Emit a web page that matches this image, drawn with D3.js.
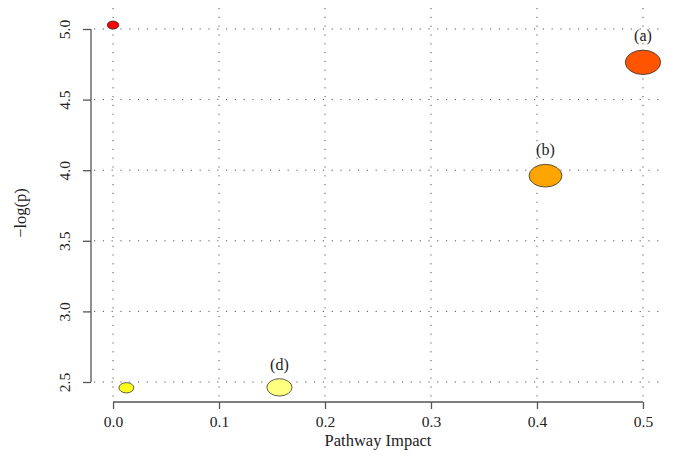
<!DOCTYPE html>
<html>
<head>
<meta charset="utf-8">
<script src="https://cdn.jsdelivr.net/npm/d3@7"></script>
<style>
  body { margin: 0; background: #fff; }
  svg text { font-family: "Liberation Serif", "DejaVu Serif", serif; fill: #222; }
  .grid line { stroke: #555; stroke-width: 1; stroke-dasharray: 1.2,7.6; }
  .axis path, .axis line { stroke: #555; stroke-width: 1.3; }
</style>
</head>
<body>
<svg id="chart" width="674" height="465"></svg>
<script>
// pathway impact (x), -log(p) (y), bubble weight, fill colour and label
var impact = [0.0, 0.5, 0.408, 0.157, 0.0126];
var logp = [5.028, 4.764, 3.961, 2.462, 2.459];
var weight = [0.33, 1.0, 0.93, 0.71, 0.42];
var fills = ["#ff0000", "#ff5500", "#ffa500", "#ffff80", "#ffff1a"];
var labels = ["", "(a)", "(b)", "(d)", ""];
var xTicks = [0.0, 0.1, 0.2, 0.3, 0.4, 0.5];
var yTicks = [2.5, 3.0, 3.5, 4.0, 4.5, 5.0];

var svg = d3.select("#chart");
var pLeft = 91, pRight = 665, pTop = 8, pBottom = 402;

var x = d3.scaleLinear().domain([-0.0208, 0.5208]).range([pLeft, pRight]);
var y = d3.scaleLinear().domain([2.3584, 5.1487]).range([pBottom, pTop]);
var ry = d3.scaleLinear().domain([0, 1]).range([0, 12.2]);

// dotted grid
var grid = svg.append("g").attr("class", "grid");
grid.selectAll(".vx").data(xTicks).enter().append("line")
    .attr("x1", function (d) { return x(d); })
    .attr("x2", function (d) { return x(d); })
    .attr("y1", pTop).attr("y2", pBottom - 4);
grid.selectAll(".hy").data(yTicks).enter().append("line")
    .attr("y1", function (d) { return y(d); })
    .attr("y2", function (d) { return y(d); })
    .attr("x1", pLeft + 3).attr("x2", pRight);

// axes
var xAxis = d3.axisBottom(x).tickValues(xTicks).tickFormat(d3.format(".1f")).tickSize(7).tickSizeOuter(0);
var yAxis = d3.axisLeft(y).tickValues(yTicks).tickFormat(d3.format(".1f")).tickSize(8).tickSizeOuter(0);

var gx = svg.append("g").attr("class", "axis")
    .attr("transform", "translate(0," + pBottom + ")")
    .call(xAxis);
gx.select(".domain").attr("d", "M" + x(0) + ",0H" + x(0.5));
gx.selectAll("text").attr("y", 14).style("font-size", "15.5px").attr("fill", "#222");

var gy = svg.append("g").attr("class", "axis")
    .attr("transform", "translate(" + pLeft + ",0)")
    .call(yAxis);
gy.select(".domain").attr("d", "M0," + y(5.0) + "V" + y(2.5));
gy.selectAll("text")
    .attr("x", 0).attr("dy", "0.35em")
    .attr("transform", "translate(-26,0) rotate(-90)")
    .attr("text-anchor", "middle")
    .style("font-size", "15.5px").attr("fill", "#222");

// titles
svg.append("text").attr("x", x(0.25)).attr("y", 446)
    .attr("text-anchor", "middle").style("font-size", "16.5px")
    .text("Pathway Impact");
svg.append("text")
    .attr("transform", "translate(26,213) rotate(-90)")
    .attr("text-anchor", "middle").style("font-size", "16.5px")
    .text("\u2212log(p)");

// bubbles
var pts = d3.range(impact.length);
svg.selectAll(".bub").data(pts).enter().append("ellipse")
    .attr("cx", function (i) { return x(impact[i]); })
    .attr("cy", function (i) { return y(logp[i]); })
    .attr("rx", function (i) { return ry(weight[i]) * 1.45; })
    .attr("ry", function (i) { return ry(weight[i]); })
    .attr("fill", function (i) { return fills[i]; })
    .attr("stroke", "#333")
    .attr("stroke-width", 0.8);

svg.selectAll(".lab").data(pts.filter(function (i) { return labels[i] !== ""; })).enter().append("text")
    .attr("x", function (i) { return x(impact[i]); })
    .attr("y", function (i) { return y(logp[i]) - ry(weight[i]) - 9; })
    .attr("text-anchor", "middle")
    .style("font-size", "16px")
    .text(function (i) { return labels[i]; });
</script>
</body>
</html>
